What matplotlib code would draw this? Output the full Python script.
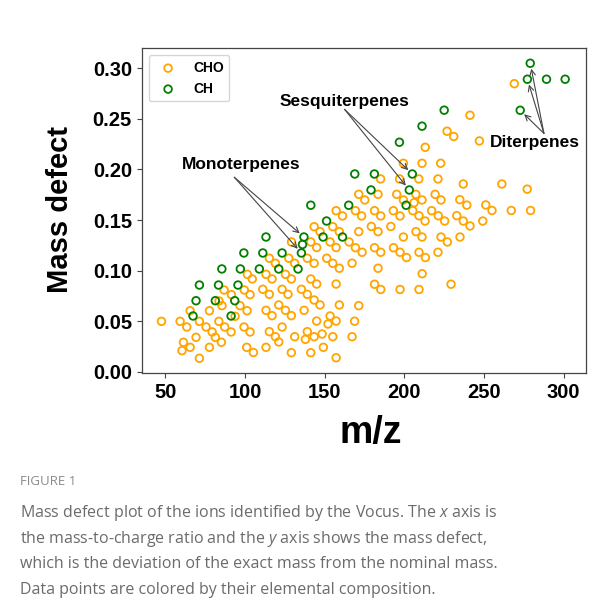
import matplotlib
matplotlib.use("Agg")
import matplotlib.pyplot as plt

# CHO ions: m/z and mass defect
cho_mz = [47.6, 59.3, 63.5, 65.6, 61.4, 65.6, 60.5, 69.3, 71.4, 71.4,
          75.6, 77.7, 77.7, 79.4, 81.4, 83.6, 83.7, 85.2, 85.6, 86.9,
          87.3, 91.3, 91.5, 93.8, 96.9, 99.4, 99.6, 101.1, 101.3, 101.5,
          103.2, 103.2, 104.6, 105.3, 111.2, 113.2, 113.2, 113.2, 115.3, 115.3,
          115.3, 117.0, 117.0, 119.1, 119.1, 121.2, 121.2, 123.3, 123.3, 125.4,
          125.4, 127.0, 127.5, 129.1, 129.1, 129.1, 129.2, 131.2, 131.2, 135.4,
          137.1, 137.9, 139.1, 139.1, 139.1, 141.3, 141.3, 141.3, 143.4, 143.4,
          143.4, 143.4, 145.0, 145.0, 145.0, 147.1, 147.1, 148.4, 149.2, 151.3,
          152.1, 153.4, 153.4, 155.1, 155.1, 155.1, 157.2, 157.2, 157.2, 157.2,
          157.2, 159.2, 159.2, 159.2, 161.2, 165.3, 167.2, 167.2, 168.8, 169.3,
          169.3, 171.4, 171.4, 171.4, 173.2, 173.5, 175.2, 179.3, 181.3, 181.3,
          181.3, 183.5, 183.5, 183.5, 185.1, 185.2, 185.2, 185.2, 191.5, 193.1,
          193.2, 195.2, 197.0, 197.3, 197.3, 197.3, 199.4, 199.4, 199.4, 201.4,
          206.1, 207.2, 207.3, 209.1, 209.2, 209.2, 209.2, 211.1, 211.1, 211.1,
          211.2, 213.1, 213.0, 213.2, 217.1, 219.3, 221.1, 221.3, 221.1, 222.8,
          223.0, 223.0, 225.3, 226.8, 227.0, 229.3, 231.0, 232.9, 234.8, 234.9,
          237.0, 237.0, 239.2, 241.2, 241.2, 247.1, 249.2, 251.1, 255.0, 261.2,
          267.1, 269.0, 277.1, 279.2, 205.3]
cho_md = [0.0498, 0.0498, 0.0442, 0.0603, 0.0291, 0.0241, 0.0208, 0.0340, 0.0498, 0.0133,
          0.0442, 0.0603, 0.0241, 0.0393, 0.0340, 0.0498, 0.0699, 0.0291, 0.0653, 0.0808,
          0.0442, 0.0393, 0.0762, 0.0548, 0.0653, 0.0442, 0.0808, 0.0241, 0.0603, 0.0963,
          0.0762, 0.0393, 0.0917, 0.0190, 0.0815, 0.0963, 0.0607, 0.0241, 0.1122, 0.0765,
          0.0396, 0.0917, 0.0554, 0.1072, 0.0346, 0.0660, 0.0294, 0.0815, 0.0442, 0.0963,
          0.0607, 0.0765, 0.1122, 0.0917, 0.0554, 0.0188, 0.1283, 0.1072, 0.0346, 0.0815,
          0.0607, 0.0320, 0.1122, 0.0765, 0.0396, 0.1283, 0.0917, 0.0188, 0.1434, 0.1072,
          0.0709, 0.0346, 0.1228, 0.0867, 0.0501, 0.1385, 0.0660, 0.0373, 0.0241, 0.1122,
          0.0472, 0.1283, 0.0551, 0.1434, 0.1072, 0.0346, 0.1592, 0.1228, 0.0867, 0.0501,
          0.0138, 0.1385, 0.1023, 0.0660, 0.1540, 0.1283, 0.1073, 0.0346, 0.0499, 0.1592,
          0.1226, 0.1754, 0.1385, 0.0653, 0.1540, 0.1181, 0.1698, 0.1436, 0.1592, 0.1226,
          0.0865, 0.1754, 0.1385, 0.1023, 0.1906, 0.1540, 0.1181, 0.0813, 0.1436, 0.1592,
          0.1226, 0.1754, 0.1906, 0.1540, 0.1181, 0.0813, 0.2061, 0.1698, 0.1332, 0.1129,
          0.1671, 0.1754, 0.1385, 0.1906, 0.1542, 0.1181, 0.0813, 0.2061, 0.1698, 0.1332,
          0.0969, 0.2219, 0.1490, 0.1129, 0.1592, 0.1754, 0.1906, 0.1542, 0.1181, 0.2061,
          0.1698, 0.1332, 0.1490, 0.2378, 0.1283, 0.0865, 0.2326, 0.1543, 0.1701, 0.1332,
          0.1856, 0.1490, 0.1647, 0.2536, 0.1441, 0.2282, 0.1490, 0.1649, 0.1594, 0.1856,
          0.1594, 0.2848, 0.1805, 0.1594, 0.1592]

# CH ions: m/z and mass defect
ch_mz = [67.4, 69.3, 71.4, 81.4, 83.4, 85.5, 91.3, 93.6, 95.6, 97.1,
         99.3, 109.0, 111.2, 113.2, 121.2, 123.3, 133.3, 135.4, 136.1, 137.0,
         141.3, 149.0, 151.2, 161.2, 165.1, 168.9, 181.2, 179.1, 196.9, 201.1,
         203.1, 205.0, 211.1, 225.0, 272.7, 277.2, 279.0, 289.2, 300.9]
ch_md = [0.0551, 0.0702, 0.0857, 0.0702, 0.0857, 0.1016, 0.0551, 0.0702, 0.0857, 0.1016,
         0.1174, 0.1016, 0.1174, 0.1332, 0.1016, 0.1174, 0.1016, 0.1174, 0.1258, 0.1332,
         0.1646, 0.1332, 0.1490, 0.1332, 0.1646, 0.1955, 0.1955, 0.1797, 0.2269, 0.1646,
         0.1797, 0.1955, 0.2428, 0.2586, 0.2585, 0.2892, 0.3050, 0.2892, 0.2892]

x_ticks = [50, 100, 150, 200, 250, 300]
y_ticks = [0.00, 0.05, 0.10, 0.15, 0.20, 0.25, 0.30]

# labelled groups: (text, text position, arrow origin, arrow targets)
groups = [
    ("Monoterpenes", (97.4, 0.2002), (93.3, 0.1923), [(137.0, 0.1332), (135.4, 0.1174)]),
    ("Sesquiterpenes", (162.4, 0.2631), (162.5, 0.2594), [(205.0, 0.1955), (203.1, 0.1797)]),
    ("Diterpenes", (281.8, 0.2224), (287.6, 0.2356), [(279.0, 0.3050), (277.2, 0.2892), (272.7, 0.2585)]),
]

caption_lines = [
    "Mass defect plot of the ions identified by the Vocus. The $x$ axis is",
    "the mass-to-charge ratio and the $y$ axis shows the mass defect,",
    "which is the deviation of the exact mass from the nominal mass.",
    "Data points are colored by their elemental composition.",
]

plt.rcParams['font.family'] = ['Liberation Sans', 'DejaVu Sans']
plt.rcParams['mathtext.fontset'] = 'custom'
plt.rcParams['mathtext.rm'] = 'Open Sans'
plt.rcParams['mathtext.it'] = 'Open Sans:italic'

fig = plt.figure(figsize=(6.11, 6.12), dpi=100)
fig.patch.set_facecolor('white')
ax = fig.add_axes([0.2319, 0.390, 0.7267, 0.5311])

ax.scatter(cho_mz, cho_md, s=30, facecolors='none', edgecolors='orange',
           linewidths=1.3, label='CHO')
ax.scatter(ch_mz, ch_md, s=30, facecolors='none', edgecolors='green',
           linewidths=1.3, label='CH')

ax.set_xlim(35.2, 313.8)
ax.set_ylim(-0.0016, 0.3198)
ax.set_xticks(x_ticks)
ax.set_yticks(y_ticks)
ax.set_xticklabels([str(v) for v in x_ticks])
ax.set_yticklabels([f"{v:.2f}" for v in y_ticks])
for lab in ax.get_xticklabels() + ax.get_yticklabels():
    lab.set_fontweight('bold')
    lab.set_fontsize(14.5)
ax.tick_params(length=3.5, width=0.8, color='#444444')
for sp in ax.spines.values():
    sp.set_color('#444444')
    sp.set_linewidth(0.9)

leg = ax.legend(loc='upper left', scatterpoints=1, prop={'weight': 'bold', 'size': 10})

for name, (tx, ty), (sx, sy), targets in groups:
    ax.text(tx, ty, name, ha='center', va='baseline', fontsize=12.5, fontweight='bold')
    for px, py in targets:
        ax.annotate('', xy=(px, py), xytext=(sx, sy),
                    arrowprops=dict(arrowstyle='->', color='#444444', lw=0.8,
                                    shrinkA=0, shrinkB=4))

fig.text(0.607, 0.2925, 'm/z', ha='center', va='center', fontsize=27, fontweight='bold')
fig.text(0.098, 0.657, 'Mass defect', ha='center', va='center', rotation=90,
         fontsize=21, fontweight='bold')

fig.text(20 / 611, 1 - 485 / 612, 'FIGURE 1', ha='left', va='baseline',
         fontsize=9.5, color='#8a8a8a', family='Open Sans')
for i, line in enumerate(caption_lines):
    fig.text(20 / 611, 1 - (517 + 25.7 * i) / 612, line, ha='left', va='baseline',
             fontsize=11.5, color='#6b6b6b', family='Open Sans')

fig.savefig('out.png', dpi=100, facecolor='white')
